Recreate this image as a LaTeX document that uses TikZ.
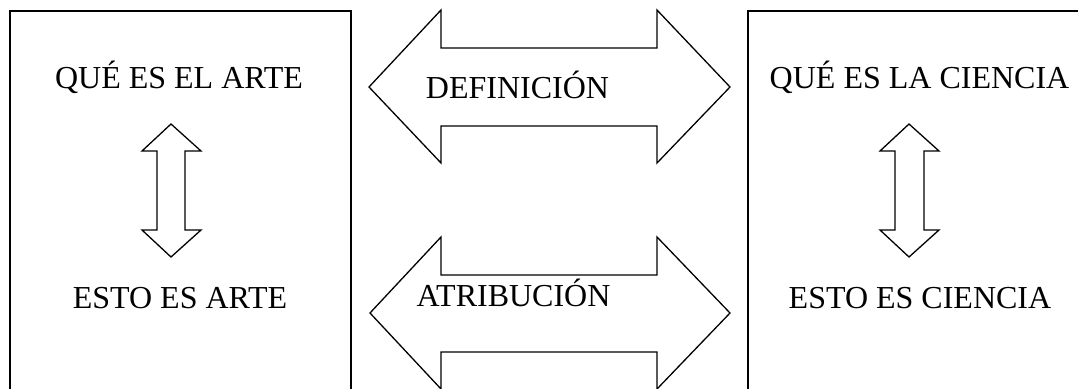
\documentclass[tikz,border=0pt]{standalone}
\usepackage{fontspec}
\setmainfont{Liberation Serif}
\begin{document}
\begin{tikzpicture}[x=1pt,y=-1pt,
  framebox/.style={line width=2.2pt},
  bigarrow/.style={line width=1.3pt, line join=miter},
  lbl/.style={font=\fontsize{32}{38}\selectfont, anchor=base, inner sep=0pt}]
\useasboundingbox (0,0) rectangle (1078,388);
\clip (0,0) rectangle (1078,388);
% frames
\draw[framebox] (10,400) -- (10,11) -- (351,11) -- (351,400);
\draw[framebox] (748,400) -- (748,11) -- (1085,11);
% horizontal double arrows
\draw[bigarrow] (369,87) -- (441,10) -- (441,48) -- (657,48) -- (657,10) -- (730,87)
  -- (657,163) -- (657,126) -- (441,126) -- (441,163) -- cycle;
\draw[bigarrow] (370,313) -- (441,237) -- (441,275) -- (657,275) -- (657,237) -- (730,313)
  -- (657,389) -- (657,352) -- (441,352) -- (441,389) -- cycle;
% vertical double arrows
\draw[bigarrow] (171,124) -- (201,151) -- (185,151) -- (185,230) -- (201,230) -- (171,257)
  -- (142,230) -- (157,230) -- (157,151) -- (142,151) -- cycle;
\draw[bigarrow] (909,124) -- (939,151) -- (924,151) -- (924,230) -- (939,230) -- (909,257)
  -- (880,230) -- (895,230) -- (895,151) -- (880,151) -- cycle;
% labels
\node[lbl] (qa) at (179,88) {QUÉ ES EL ARTE};
\node[lbl] (ea) at (180,308) {ESTO ES ARTE};
\node[lbl] (qc) at (919.5,88) {QUÉ ES LA CIENCIA};
\node[lbl] (ec) at (920,308) {ESTO ES CIENCIA};
\node[lbl] (def) at (517.5,98) {DEFINICIÓN};
\node[lbl] (atr) at (513.5,306) {ATRIBUCIÓN};
\end{tikzpicture}
\end{document}
